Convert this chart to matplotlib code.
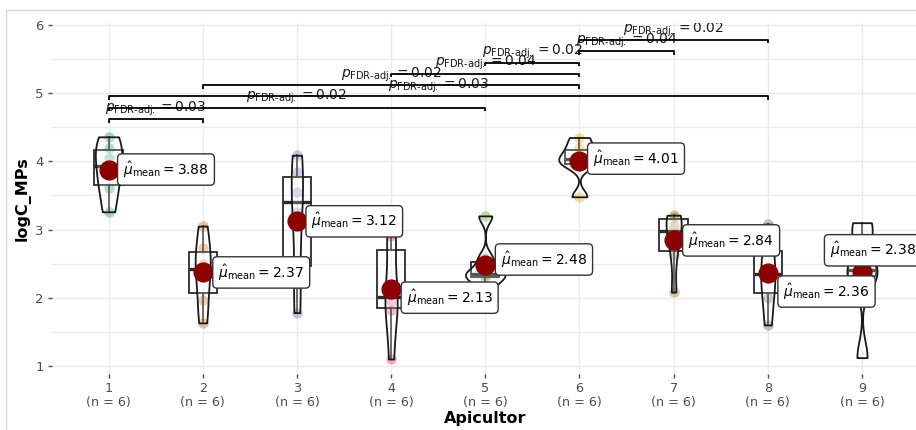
import numpy as np
import matplotlib
matplotlib.use("Agg")
import matplotlib.pyplot as plt
from matplotlib.lines import Line2D

# ---------------- data ----------------
groups = ["1", "2", "3", "4", "5", "6", "7", "8", "9"]
g1_vals = [3.26, 3.61, 3.80, 4.05, 4.20, 4.36]
g2_vals = [1.63, 1.97, 2.34, 2.50, 2.73, 3.05]
g3_vals = [1.78, 2.20, 3.25, 3.55, 3.85, 4.09]
g4_vals = [1.10, 1.82, 1.95, 2.07, 2.90, 2.94]
g5_vals = [2.10, 2.30, 2.33, 2.37, 2.58, 3.20]
g6_vals = [3.48, 3.95, 4.00, 4.08, 4.20, 4.35]
g7_vals = [2.08, 2.62, 2.90, 3.05, 3.18, 3.21]
g8_vals = [1.60, 2.00, 2.30, 2.40, 2.78, 3.08]
g9_vals = [1.12, 2.30, 2.36, 2.45, 2.95, 3.10]
group_values = [g1_vals, g2_vals, g3_vals, g4_vals, g5_vals,
                g6_vals, g7_vals, g8_vals, g9_vals]

pair_a = [1, 1, 1, 2, 4, 5, 6, 6]
pair_b = [2, 5, 8, 6, 6, 6, 7, 8]
pair_p = ["0.03", "0.02", "0.03", "0.02", "0.04", "0.02", "0.04", "0.02"]

# layout of mean labels (offset of label's left edge / vertical centre)
label_dx = [0.095, 0.106, 0.095, 0.106, 0.106, 0.085, 0.095, 0.106, -0.40]
label_dy = [0.0, 0.0, 0.0, -0.13, 0.08, 0.03, 0.0, -0.27, 0.315]
# maximal violin half-widths (style)
violin_halfw = [0.14, 0.08, 0.06, 0.065, 0.21, 0.22, 0.08, 0.075, 0.16]

point_colors = ["#1B9E77", "#D95F02", "#7570B3", "#E7298A", "#66A61E",
                "#E6AB02", "#A6761D", "#666666", None]

# ---------------- figure ----------------
W, H = 916, 430
fig = plt.figure(figsize=(W / 100, H / 100), dpi=100)
left, right, top, bottom = 52, 918.5, 23, 374
ax = fig.add_axes([left / W, 1 - bottom / H, (right - left) / W, (bottom - top) / H])

xs = np.arange(1, len(groups) + 1)
ax.set_xlim(0.4, 9.6)
ax.set_ylim(0.88, 6.03)

# grid
for yv in np.arange(1, 6.01, 0.5):
    ax.axhline(yv, color="#EBEBEB", lw=1.0, zorder=0)
for xv in xs:
    ax.axvline(xv, color="#EBEBEB", lw=1.0, zorder=0)

# KDE (bw.nrd0, trimmed) for violins
def nrd0(v):
    v = np.asarray(v)
    sd = v.std(ddof=1)
    iqr = np.subtract(*np.percentile(v, [75, 25]))
    lo = min(sd, iqr / 1.34) if iqr > 0 else sd
    return 0.9 * lo * len(v) ** (-0.2)

dens = []
for v in group_values:
    v = np.asarray(v)
    bw = nrd0(v)
    grid = np.linspace(v.min(), v.max(), 512)
    d = np.exp(-0.5 * ((grid[:, None] - v[None, :]) / bw) ** 2).sum(1) / (len(v) * bw * np.sqrt(2 * np.pi))
    dens.append((grid, d))

# points
for x, v, c in zip(xs, group_values, point_colors):
    if c is None:
        continue
    ax.plot([x] * len(v), v, "o", color=c, alpha=0.4, ms=7.5, mew=0, zorder=2)

# boxplots
bp = ax.boxplot(group_values, positions=xs, widths=0.3, showfliers=False,
                patch_artist=True, whis=1.5, manage_ticks=False, zorder=3)
for b in bp["boxes"]:
    b.set_facecolor((1, 1, 1, 0.2))
    b.set_edgecolor("#2b2b2b")
    b.set_linewidth(1.3)
for l in bp["whiskers"]:
    l.set_color("#2b2b2b")
    l.set_linewidth(1.2)
for k in bp["caps"]:
    k.set_visible(False)
for m in bp["medians"]:
    m.set_color("#2b2b2b")
    m.set_linewidth(2.4)

# violins
for x, (grid, d), mw in zip(xs, dens, violin_halfw):
    hw = mw * d / d.max()
    ax.fill_betweenx(grid, x - hw, x + hw, facecolor=(1, 1, 1, 0.2),
                     edgecolor="#1a1a1a", lw=1.3, zorder=4)

# means + labels
means = [np.mean(v) for v in group_values]
ax.plot(xs, means, "o", color="#8B0000", ms=13.5, zorder=6)
pad_data = 0.06
for x, m, dx, dy in zip(xs, means, label_dx, label_dy):
    ax.text(x + dx + pad_data, m + dy,
            r"$\hat{\mu}_{\mathrm{mean}}=%.2f$" % m,
            ha="left", va="center", fontsize=10, color="black", zorder=7,
            bbox=dict(boxstyle="round,pad=0.4,rounding_size=0.3",
                      fc="white", ec="#333333", lw=1.0))

# significance brackets
h0, dh, tip = 4.62, 0.166, 0.05
for i, (a, b, p) in enumerate(zip(pair_a, pair_b, pair_p)):
    h = h0 + i * dh
    ax.plot([a, a, b, b], [h - tip, h, h, h - tip], color="black", lw=1.3,
            zorder=5, solid_capstyle="butt")
    ax.text((a + b) / 2, h + 0.02,
            "$p_{\\mathrm{FDR\u2010adj.}}=%s$" % p,
            ha="center", va="bottom", fontsize=10, color="#1a1a1a",
            zorder=5, clip_on=True)

# axes styling
for s in ax.spines.values():
    s.set_visible(False)
ax.set_xticks(xs)
ax.set_xticklabels([f"{g}\n(n = {len(v)})" for g, v in zip(groups, group_values)],
                   fontsize=9.2, color="#4D4D4D", linespacing=1.1)
ax.set_yticks([1, 2, 3, 4, 5, 6])
ax.set_yticklabels(["1", "2", "3", "4", "5", "6"], fontsize=9.5, color="#4D4D4D")
ax.tick_params(axis="both", length=3, width=1, color="#4D4D4D", pad=3)
ax.set_xlabel("Apicultor", fontsize=11.5, fontweight="bold", labelpad=1)
ax.set_ylabel("logC_MPs", fontsize=11.5, fontweight="bold", labelpad=3)

# screenshot frame lines
fig.add_artist(Line2D([6 / W, 1], [1 - 10 / H, 1 - 10 / H], color="#DADADA", lw=1.0))
fig.add_artist(Line2D([6 / W, 6 / W], [0, 1 - 10 / H], color="#DADADA", lw=1.0))

fig.savefig("out.png", dpi=100)
